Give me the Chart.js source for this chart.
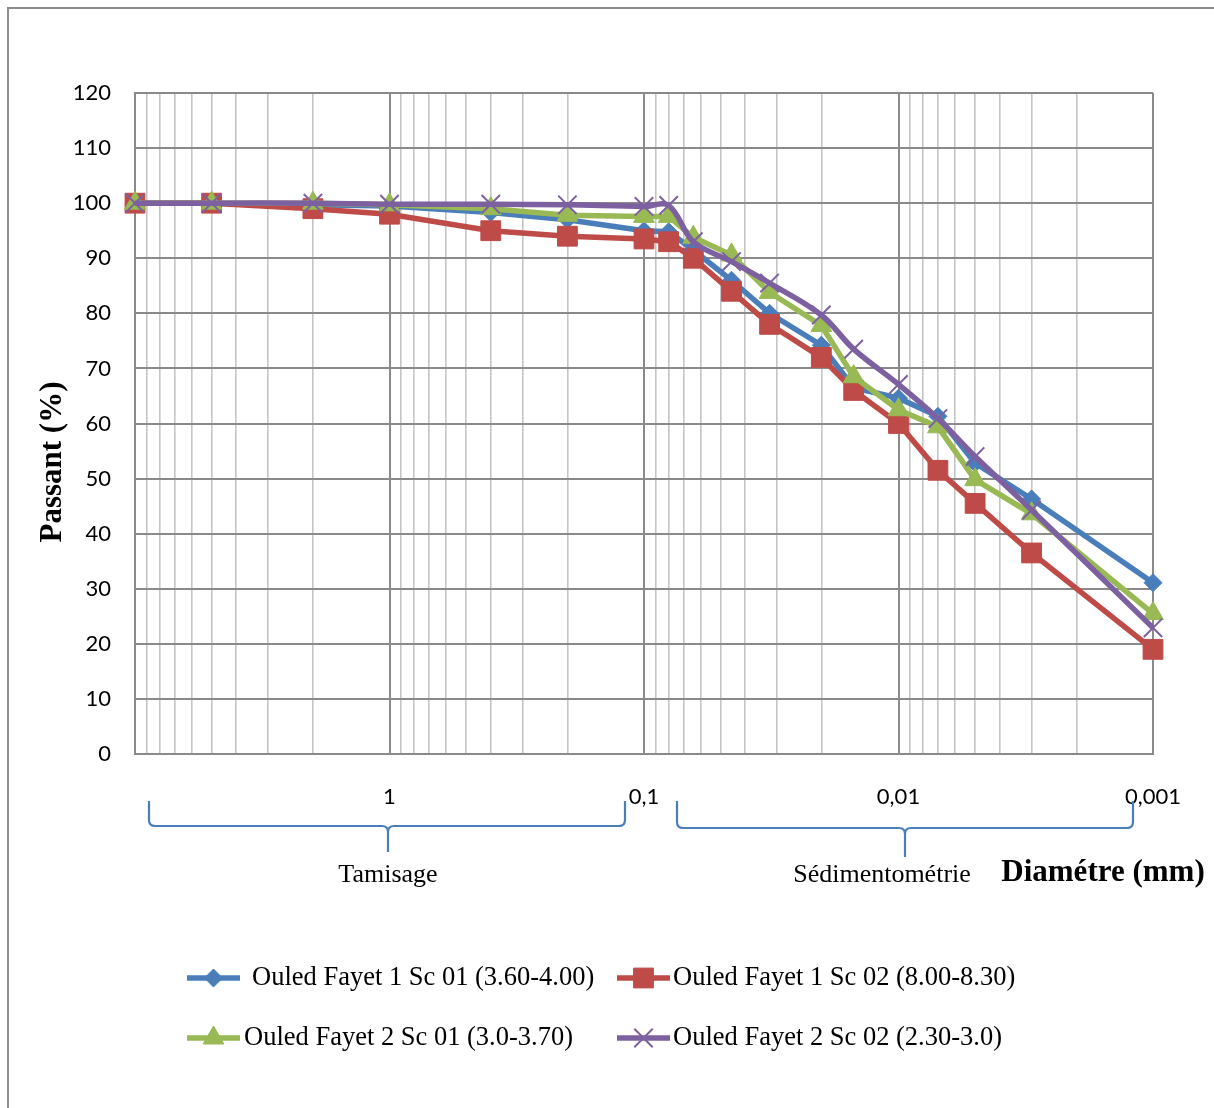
<!DOCTYPE html>
<html lang="fr">
<head>
<meta charset="utf-8">
<title>Courbes granulométriques - Ouled Fayet</title>
<script src="https://cdn.jsdelivr.net/npm/chart.js@4.4.1/dist/chart.umd.min.js"></script>
<style>
  html, body { margin: 0; padding: 0; background: #fff; }
  #wrap { width: 1214px; height: 1108px; position: relative; }
</style>
</head>
<body>
<div id="wrap"><canvas id="courbe"></canvas></div>
<script>
// Diamètres (mm) : tamisage puis sédimentométrie
const diametres = [10, 5, 2, 1, 0.4, 0.2, 0.1, 0.08, 0.064, 0.0453, 0.0321, 0.0201, 0.015, 0.01, 0.007, 0.005, 0.003, 0.001];

// Passants (%)
const of1Sc01 = [100, 100, 99.7, 99.5, 98.3, 97, 95, 94.8, 91.5, 86, 80, 74.2, 66.5, 64.6, 61.3, 52.8, 46.3, 31.1];
const of1Sc02 = [100, 100, 99, 98, 95, 94, 93.5, 93, 90, 84, 78, 72, 66, 60, 51.5, 45.5, 36.5, 19];
const of2Sc01 = [100, 100, 100, 99.7, 99, 97.8, 97.6, 97.6, 93.8, 90.6, 83.8, 77.8, 68.5, 62.5, 59.4, 49.8, 43.6, 25.5];
const of2Sc02 = [100, 100, 100, 99.8, 99.8, 99.7, 99.4, 99.6, 93, 89.4, 85.5, 79.7, 73.5, 67.1, 60.9, 54, 44.3, 22.9];

const nomsSeries = [
    'Ouled Fayet 1 Sc 01 (3.60-4.00)',
    'Ouled Fayet 1 Sc 02 (8.00-8.30)',
    'Ouled Fayet 2 Sc 01 (3.0-3.70)',
    'Ouled Fayet 2 Sc 02 (2.30-3.0)'
];
const couleurs = ['#4a7ebb', '#be4b48', '#98b954', '#7d60a0'];

// Graduations de l'axe des diamètres
const xTickValeurs = [1, 0.1, 0.01, 0.001];
const xTickTextes = ['1', '0,1', '0,01', '0,001'];

const serif = '"Liberation Serif", "Times New Roman", serif';

function points(valeurs) {
    return diametres.map((d, i) => ({ x: d, y: valeurs[i] }));
}

function estPuissanceDix(v) {
    const l = Math.log10(v);
    return Math.abs(l - Math.round(l)) < 1e-9;
}

// grille log : 1..9 x 10^e
let grille = [];
for (let e = 3; e >= 1; e--) {
    for (let m = 1; m <= 9; m++) grille.push(m / Math.pow(10, e));
}
for (let m = 1; m <= 10; m++) grille.push(m);

const styles = [
    { pointStyle: 'rectRot', radius: 9, bw: 1 },
    { pointStyle: 'rect', radius: 14, bw: 1 },
    { pointStyle: 'triangle', radius: 12, bw: 1 },
    { pointStyle: 'crossRot', radius: 13, bw: 2 }
];

const series = [of1Sc01, of1Sc02, of2Sc01, of2Sc02];
const datasets = series.map((vals, i) => ({
    label: nomsSeries[i],
    data: points(vals),
    borderColor: couleurs[i],
    backgroundColor: couleurs[i],
    borderWidth: 5.5,
    pointStyle: styles[i].pointStyle,
    pointRadius: styles[i].radius,
    pointHoverRadius: styles[i].radius,
    pointBorderWidth: styles[i].bw,
    pointBorderColor: couleurs[i],
    pointBackgroundColor: couleurs[i],
    tension: i === 3 ? 0.35 : 0,
    clip: false,
    order: 4 - i
}));

function dessinerAccolade(ctx, x1, x2, xm, yHaut, yMil, yPointe, r) {
    ctx.beginPath();
    ctx.moveTo(x1, yHaut);
    ctx.lineTo(x1, yMil - r);
    ctx.quadraticCurveTo(x1, yMil, x1 + r, yMil);
    ctx.lineTo(xm - r, yMil);
    ctx.quadraticCurveTo(xm, yMil, xm, yMil + r);
    ctx.lineTo(xm, yPointe);
    ctx.moveTo(xm, yMil + r);
    ctx.quadraticCurveTo(xm, yMil, xm + r, yMil);
    ctx.lineTo(x2 - r, yMil);
    ctx.quadraticCurveTo(x2, yMil, x2, yMil - r);
    ctx.lineTo(x2, yHaut);
    ctx.stroke();
}

const habillage = {
    id: 'habillage',
    beforeDraw(chart) {
        const ctx = chart.ctx;
        ctx.save();
        ctx.fillStyle = '#fff';
        ctx.fillRect(0, 0, chart.width, chart.height);
        ctx.strokeStyle = '#8c8c8c';
        ctx.lineWidth = 2;
        ctx.strokeRect(8, 8, chart.width + 20, chart.height + 20);
        ctx.restore();
    },
    afterDraw(chart) {
        const ctx = chart.ctx;
        ctx.save();

        // titre axe Y
        ctx.fillStyle = '#000';
        ctx.font = 'bold 31px ' + serif;
        ctx.textAlign = 'center';
        ctx.textBaseline = 'middle';
        ctx.translate(53, 462);
        ctx.rotate(-Math.PI / 2);
        ctx.fillText('Passant (%)', 0, 0);
        ctx.setTransform(1, 0, 0, 1, 0, 0);

        // accolades
        ctx.strokeStyle = '#4a7ebb';
        ctx.lineWidth = 2.2;
        dessinerAccolade(ctx, 149, 625, 388, 801, 826, 852, 6);
        dessinerAccolade(ctx, 677, 1133, 905, 801, 828, 857, 6);

        ctx.font = '26px ' + serif;
        ctx.fillText('Tamisage', 388, 875);
        ctx.fillText('Sédimentométrie', 882, 875);
        ctx.font = 'bold 31px ' + serif;
        ctx.fillText('Diamétre (mm)', 1103, 873);

        // légende
        const pos = [
            { x: 187, y: 978, tx: 252 },
            { x: 617, y: 978, tx: 673 },
            { x: 187, y: 1038, tx: 244 },
            { x: 617, y: 1038, tx: 673 }
        ];
        ctx.font = '26.5px ' + serif;
        ctx.textAlign = 'left';
        pos.forEach((p, i) => {
            ctx.strokeStyle = couleurs[i];
            ctx.fillStyle = couleurs[i];
            ctx.lineWidth = 5.5;
            ctx.beginPath();
            ctx.moveTo(p.x, p.y);
            ctx.lineTo(p.x + 53, p.y);
            ctx.stroke();
            ctx.lineWidth = styles[i].bw;
            Chart.helpers.drawPoint(ctx, {
                pointStyle: styles[i].pointStyle,
                radius: styles[i].radius,
                rotation: 0,
                borderWidth: styles[i].bw
            }, p.x + 26.5, p.y);
            ctx.fillStyle = '#000';
            ctx.fillText(nomsSeries[i], p.tx, p.y);
        });
        ctx.restore();
    }
};

new Chart(document.getElementById('courbe'), {
    type: 'line',
    data: { datasets: datasets },
    plugins: [habillage],
    options: {
        responsive: true,
        maintainAspectRatio: false,
        animation: false,
        events: [],
        layout: { padding: { left: 0, top: 93, right: 61, bottom: 0 } },
        plugins: {
            legend: { display: false },
            tooltip: { enabled: false }
        },
        scales: {
            x: {
                type: 'logarithmic',
                position: 'bottom',
                min: 0.001,
                max: 10,
                reverse: true,
                afterBuildTicks: scale => {
                    scale.ticks = grille.map(v => ({ value: v, major: estPuissanceDix(v) }));
                },
                afterFit: scale => { scale.height = 354; },
                ticks: {
                    autoSkip: false,
                    maxRotation: 0,
                    minRotation: 0,
                    padding: 30,
                    color: '#000',
                    font: { family: 'Lato', size: 22 },
                    callback: value => {
                        const k = xTickValeurs.findIndex(t => Math.abs(t - value) < t * 1e-6);
                        return k >= 0 ? xTickTextes[k] : '';
                    }
                },
                grid: {
                    drawTicks: false,
                    color: c => (c.tick && estPuissanceDix(c.tick.value)) ? '#8a8a8a' : '#c4c4c4',
                    lineWidth: c => (c.tick && estPuissanceDix(c.tick.value)) ? 2 : 1.6
                },
                border: { color: '#8a8a8a', width: 2 }
            },
            y: {
                min: 0,
                max: 120,
                afterFit: scale => { scale.width = 135; },
                ticks: {
                    stepSize: 10,
                    padding: 24,
                    color: '#000',
                    font: { family: 'Lato', size: 22 }
                },
                grid: { drawTicks: false, color: '#8a8a8a', lineWidth: 2 },
                border: { color: '#8a8a8a', width: 2 }
            }
        }
    }
});
</script>
</body>
</html>
